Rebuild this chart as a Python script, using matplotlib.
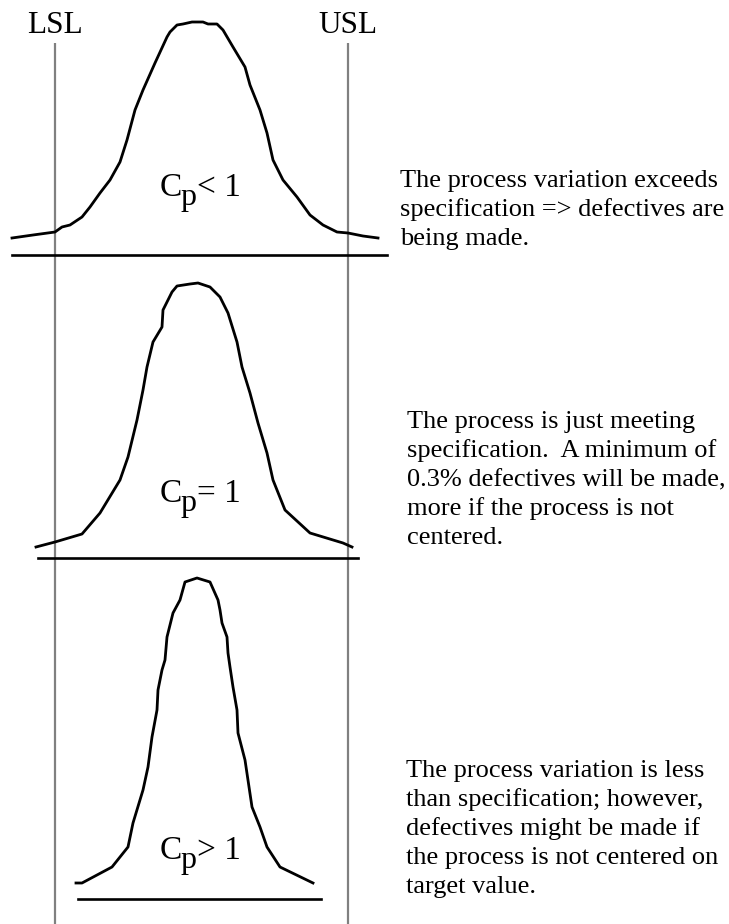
import matplotlib
matplotlib.use("Agg")
import matplotlib.pyplot as plt

W, H = 729, 924

# spec limits (pixel x) and labels
LSL_X = 55
USL_X = 348
SPEC_LABELS = ["LSL", "USL"]
SPEC_TOP = 43

# Cp < 1  (wide curve)
curve1_x = [12, 33, 55, 62, 70, 82, 90, 100, 110, 120, 127, 135, 143, 155, 167, 170,
            177, 183, 192, 200, 203, 208, 217, 223, 233, 245, 250, 260, 267, 273,
            283, 297, 310, 323, 337, 348, 363, 378]
curve1_y = [238, 235, 232, 227, 225, 217, 207, 193, 180, 162, 140, 110, 90, 63, 37, 32,
            25, 24, 22, 22, 22, 24, 24, 30, 47, 67, 85, 110, 133, 160,
            180, 197, 215, 225, 232, 233, 236, 238]
base1 = (12, 387, 255)

# Cp = 1
curve2_x = [36, 55, 82, 100, 120, 128, 137, 143, 147, 153, 162, 163, 172, 177, 190,
            198, 210, 220, 228, 237, 242, 250, 258, 267, 273, 285, 310, 343, 352]
curve2_y = [547, 542, 534, 513, 480, 457, 420, 390, 367, 342, 327, 310, 292, 286, 284,
            283, 287, 297, 313, 342, 367, 393, 423, 453, 480, 510, 533, 543, 547]
base2 = (38, 358, 558)

# Cp > 1  (narrow curve)
curve3_x = [76, 82, 112, 128, 133, 143, 148, 152, 157, 158, 162, 165, 167, 173, 180,
            185, 197, 210, 218, 220, 222, 227, 228, 230, 233, 237, 238, 245, 252,
            260, 267, 280, 313]
curve3_y = [883, 883, 867, 847, 823, 790, 767, 737, 710, 690, 670, 660, 637, 613, 600,
            582, 578, 582, 600, 610, 623, 637, 653, 667, 687, 710, 733, 760, 807,
            827, 847, 867, 883]
base3 = (78, 321, 899)

# "C" + subscript "p" + relation, one per panel
cp_relations = ["< 1", "= 1", "> 1"]
cp_baselines = [196, 502, 859]

notes = [
    (["The process variation exceeds",
      "specification => defectives are",
      "being made."], 400, 187),
    (["The process is just meeting",
      "specification.  A minimum of",
      "0.3% defectives will be made,",
      "more if the process is not",
      "centered."], 407, 428),
    (["The process variation is less",
      "than specification; however,",
      "defectives might be made if",
      "the process is not centered on",
      "target value."], 406, 777),
]
LINE_STEP = 29

plt.rcParams["font.family"] = ["Liberation Serif", "DejaVu Serif"]


def main():
    fig = plt.figure(figsize=(W / 100, H / 100), dpi=100)
    ax = fig.add_axes([0, 0, 1, 1])
    ax.set_xlim(0, W)
    ax.set_ylim(H, 0)
    ax.axis("off")

    # spec limit lines
    for x, lab in zip([LSL_X, USL_X], SPEC_LABELS):
        ax.plot([x, x], [SPEC_TOP, H], color="#808080", lw=1.6, solid_capstyle="butt")
        ax.text(x, 33, lab, fontsize=22.5, ha="center", va="baseline")

    for cx, cy, base in [(curve1_x, curve1_y, base1),
                         (curve2_x, curve2_y, base2),
                         (curve3_x, curve3_y, base3)]:
        ax.plot(cx, cy, color="black", lw=2.0, solid_joinstyle="round")
        ax.plot([base[0], base[1]], [base[2], base[2]], color="black", lw=1.9)

    # Cp labels, subscript dropped but almost full size like the original
    for rel, yb in zip(cp_relations, cp_baselines):
        ax.text(160, yb, "C", fontsize=24, ha="left", va="baseline")
        ax.text(180, yb + 9, "p", fontsize=23, ha="left", va="baseline")
        ax.text(197, yb, rel, fontsize=24, ha="left", va="baseline")

    for lines, x0, y0 in notes:
        for i, line in enumerate(lines):
            ax.text(x0, y0 + i * LINE_STEP, line, fontsize=19, ha="left", va="baseline")

    fig.savefig("out.png", dpi=100, facecolor="white")


if __name__ == "__main__":
    main()
